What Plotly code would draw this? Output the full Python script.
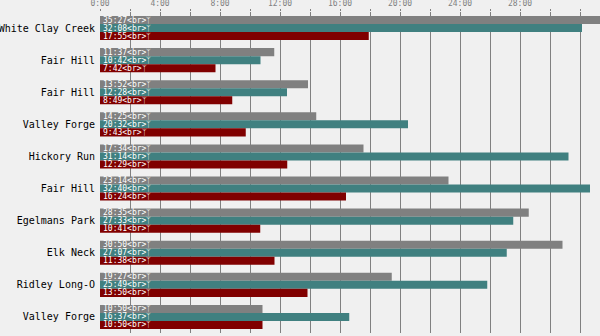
import plotly.graph_objects as go

categories = ["White Clay Creek", "Fair Hill", "Fair Hill", "Valley Forge", "Hickory Run",
              "Fair Hill", "Egelmans Park", "Elk Neck", "Ridley Long-O", "Valley Forge"]
series_gray = ["35:27", "11:37", "13:52", "14:25", "17:34", "23:14", "28:35", "30:50", "19:27", "10:50"]
series_teal = ["32:08", "10:42", "12:28", "20:32", "31:14", "32:40", "27:33", "27:07", "25:49", "16:37"]
series_red = ["17:55", "7:42", "8:49", "9:43", "12:29", "16:24", "10:41", "11:38", "13:50", "10:50"]
tick_vals = [0, 4, 8, 12, 16, 20, 24, 28]
tick_text = ["0:00", "4:00", "8:00", "12:00", "16:00", "20:00", "24:00", "28:00"]


def to_min(s):
    m, sec = s.split(":")
    return int(m) + int(sec) / 60.0


ypos = list(range(len(categories)))
fig = go.Figure()
for vals, color in [(series_gray, "#808080"), (series_teal, "#408080"), (series_red, "#800000")]:
    fig.add_trace(go.Bar(
        y=ypos, x=[to_min(v) for v in vals], orientation="h",
        marker=dict(color=color, line=dict(width=0)),
        text=[f"{v}&lt;br&gt;ᛉ" for v in vals],
        textposition="inside", insidetextanchor="start", constraintext="none",
        textfont=dict(family="DejaVu Sans Mono", size=8, color="white"),
        cliponaxis=True, showlegend=False, hoverinfo="skip",
    ))

fig.update_layout(
    width=600, height=336, barmode="group", bargap=0.25, bargroupgap=0,
    margin=dict(l=100, r=0, t=12, b=3),
    paper_bgcolor="#f0f0f0", plot_bgcolor="#f0f0f0",
    xaxis=dict(side="top", range=[0, 100 / 3], tickvals=tick_vals, ticktext=tick_text,
               showgrid=True, gridcolor="#808080", gridwidth=1, zeroline=False,
               ticks="outside", ticklen=2, tickcolor="#808080",
               tickfont=dict(family="DejaVu Sans Mono", size=8, color="#808080"),
               minor=dict(dtick=2, tick0=0, showgrid=True, gridcolor="#808080", gridwidth=1,
                          ticks="outside", ticklen=2, tickcolor="#808080"),
               showline=False),
    yaxis=dict(tickvals=ypos, ticktext=categories, autorange="reversed",
               showgrid=False, zeroline=False, ticks="", ticklen=0, ticklabelstandoff=4,
               tickfont=dict(family="DejaVu Sans Mono", size=10, color="black")),
)
fig.write_html("out.html")
